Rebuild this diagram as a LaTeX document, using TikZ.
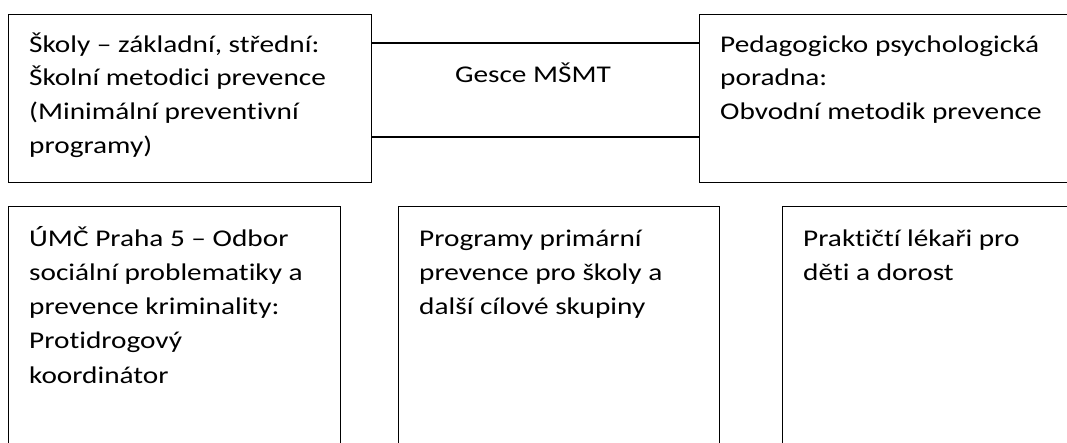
\documentclass[tikz,border=0pt]{standalone}
\usepackage{fontspec}
\setmainfont{Carlito}[FakeStretch=1.22,Ligatures={NoCommon}]
\newcommand{\mlines}[1]{\begin{tabular}[t]{@{}l@{}}#1\end{tabular}}
\begin{document}
\begin{tikzpicture}[x=1pt,y=-1pt,
  box/.style={draw=black,line width=1.4pt,anchor=north west,inner sep=0pt,fill=none},
  lbl/.style={inner sep=0pt,anchor=base west,font=\fontsize{24}{33.7}\selectfont},
  lblb/.style={lbl,font=\fontsize{24}{34.3}\selectfont},
  conn/.style={draw=black,line width=1.4pt}]
\clip (0,0) rectangle (1067,442);
\fill[white] (0,0) rectangle (1067,442);
\node[box,minimum width=363pt,minimum height=168pt] (A) at (8,14) {};
\node[box,minimum width=380pt,minimum height=168pt] (B) at (699,14) {};
\node[box,minimum width=332pt,minimum height=260pt] (C) at (8,206) {};
\node[box,minimum width=321pt,minimum height=260pt] (D) at (398,206) {};
\node[box,minimum width=300pt,minimum height=260pt] (E) at (782,206) {};
\draw[conn] ([yshift=-29pt]A.north east) -- ([yshift=-29pt]B.north west);
\draw[conn] ([yshift=-123pt]A.north east) -- ([yshift=-123pt]B.north west);
\node[lbl] (At) at (29,52) {\mlines{Školy – základní, střední:\\Školní metodici prevence\\(Minimální preventivní\\programy)}};
\node[lbl] (Bt) at (720,52) {\mlines{Pedagogicko psychologická\\poradna:\\Obvodní metodik prevence}};
\node[inner sep=0pt,anchor=base,font=\fontsize{24}{33.7}\selectfont] (G) at (533,82) {Gesce MŠMT};
\node[lblb] (Ct) at (29,246) {\mlines{ÚMČ Praha 5 – Odbor\\sociální problematiky a\\prevence kriminality:\\Protidrogový\\koordinátor}};
\node[lblb] (Dt) at (419,246) {\mlines{Programy primární\\prevence pro školy a\\další cílové skupiny}};
\node[lblb] (Et) at (803,246) {\mlines{Praktičtí lékaři pro\\děti a dorost}};
\end{tikzpicture}
\end{document}
